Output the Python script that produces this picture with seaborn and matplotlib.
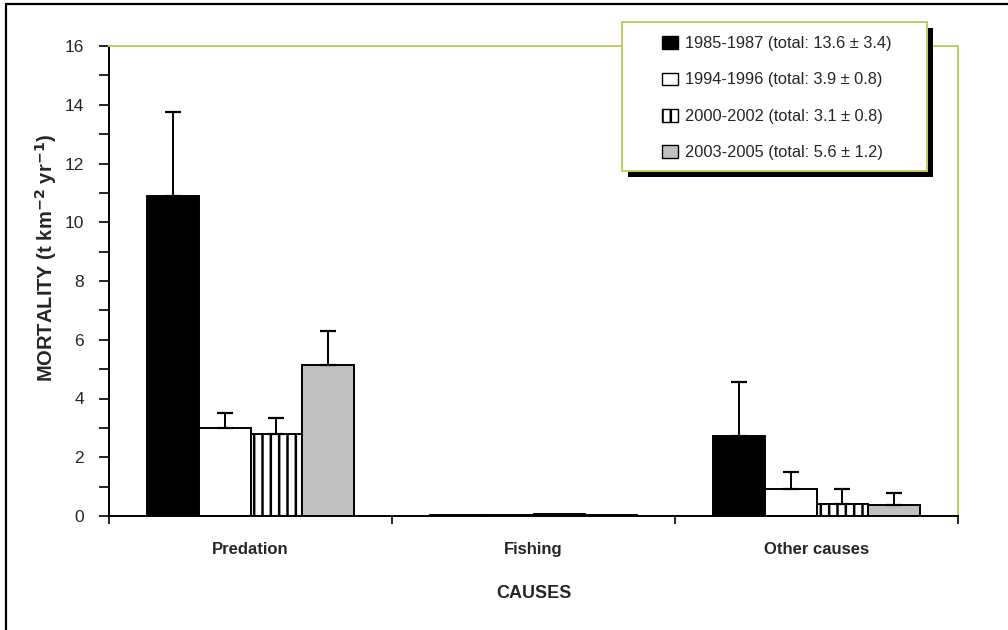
import matplotlib
matplotlib.use("Agg")
import matplotlib.pyplot as plt
from matplotlib.patches import Patch, Rectangle
from matplotlib.lines import Line2D
import numpy as np
import pandas as pd
import seaborn as sns

causes = ["Predation", "Fishing", "Other causes"]
periods = ["1985-1987", "1994-1996", "2000-2002", "2003-2005"]
totals = ["13.6 \u00b1 3.4", "3.9 \u00b1 0.8", "3.1 \u00b1 0.8", "5.6 \u00b1 1.2"]

# mortality per period, one list per cause (t km-2 yr-1)
predation = [10.9, 3.0, 2.8, 5.15]
fishing = [0.03, 0.05, 0.08, 0.05]
other = [2.73, 0.93, 0.41, 0.38]

# upper standard errors
predation_err = [2.85, 0.5, 0.55, 1.15]
fishing_err = [0.0, 0.0, 0.0, 0.0]
other_err = [1.83, 0.56, 0.5, 0.41]

sns.set_theme(style="white")
plt.rcParams["font.family"] = ["Liberation Sans", "DejaVu Sans"]
plt.rcParams["hatch.linewidth"] = 1.8
plt.rcParams["hatch.color"] = "black"

olive = "#c6cc62"

rows = []
for cause, vals in zip(causes, [predation, fishing, other]):
    for period, v in zip(periods, vals):
        rows.append({"cause": cause, "period": period, "value": v})
df = pd.DataFrame(rows)
errs = {c: e for c, e in zip(causes, [predation_err, fishing_err, other_err])}

fig = plt.figure(figsize=(10.08, 6.30), dpi=100)
ax = fig.add_axes([109 / 1008, 1 - 516 / 630, 849 / 1008, 470 / 630])

palette = ["black", "white", "white", "#c0c0c0"]
sns.barplot(data=df, x="cause", y="value", hue="period", order=causes,
            hue_order=periods, palette=palette, width=0.73, errorbar=None,
            edgecolor="black", linewidth=1.4, saturation=1, legend=False, ax=ax)

hatches = [None, None, "||", None]
for cont, period, h in zip(ax.containers, periods, hatches):
    for bar, cause in zip(cont, causes):
        if h:
            bar.set_hatch(h)
        i = periods.index(period)
        e = errs[cause][i]
        if e > 0:
            xc = bar.get_x() + bar.get_width() / 2
            ax.errorbar(xc, bar.get_height(), yerr=[[0], [e]], fmt="none",
                        ecolor="black", elinewidth=1.4, capsize=6, capthick=1.6,
                        zorder=1)

ax.set_xlim(-0.5, 2.5)
ax.set_ylim(0, 16)
ax.set_yticks(np.arange(0, 17, 2))
ax.set_yticks(np.arange(1, 16, 2), minor=True)
ax.set_xticks([-0.5, 0.5, 1.5, 2.5], minor=True)
ax.tick_params(axis="y", which="both", direction="out", length=7, width=1.2,
               color="black", left=True, labelsize=12.5, pad=11)
ax.tick_params(axis="x", which="major", length=0, labelsize=12, pad=19)
ax.tick_params(axis="x", which="minor", direction="out", length=6, width=1.2,
               color="black", bottom=True)
for lbl in ax.get_xticklabels():
    lbl.set_fontweight("bold")

for side in ["left", "bottom"]:
    ax.spines[side].set_color("black")
    ax.spines[side].set_linewidth(1.4)
for side in ["top", "right"]:
    ax.spines[side].set_color(olive)
    ax.spines[side].set_linewidth(1.4)

ax.set_xlabel("CAUSES", fontsize=13, fontweight="bold", labelpad=20)
ax.set_ylabel("MORTALITY (t km$^{\\mathbf{-2}}$ yr$^{\\mathbf{-1}}$)",
              fontsize=14.5, fontweight="bold")
ax.yaxis.set_label_coords(-0.0585, 0.55)

# legend box with solid drop shadow
bx0, bx1 = 622 / 1008, 927 / 1008
by1, by0 = 1 - 22 / 630, 1 - 171 / 630
dx, dy = 6 / 1008, 6 / 630
fig.patches.append(Rectangle((bx0 + dx, by0 - dy), bx1 - bx0, by1 - by0,
                             transform=fig.transFigure, facecolor="black",
                             edgecolor="none", zorder=5))
fig.patches.append(Rectangle((bx0, by0), bx1 - bx0, by1 - by0,
                             transform=fig.transFigure, facecolor="white",
                             edgecolor=olive, linewidth=1.4, zorder=6))

handles = [Patch(facecolor=c, edgecolor="black", hatch=h, linewidth=1.0)
           for c, h in zip(palette, hatches)]
labels = [f"{p} (total: {t})" for p, t in zip(periods, totals)]
leg = fig.legend(handles, labels, loc="upper left",
                 bbox_to_anchor=(662 / 1008, 1 - 36 / 630),
                 frameon=False, fontsize=11.8, handlelength=1.0, handleheight=0.8,
                 handletextpad=0.4, labelspacing=1.31, borderpad=0,
                 borderaxespad=0)
leg.set_zorder(7)

# outer figure border (top and left edges)
fig.add_artist(Line2D([6 / 1008, 1], [1 - 4 / 630, 1 - 4 / 630],
                      transform=fig.transFigure, color="black", linewidth=1.6))
fig.add_artist(Line2D([6 / 1008, 6 / 1008], [0, 1 - 4 / 630],
                      transform=fig.transFigure, color="black", linewidth=1.6))

fig.savefig("out.png", dpi=100, facecolor="white")
